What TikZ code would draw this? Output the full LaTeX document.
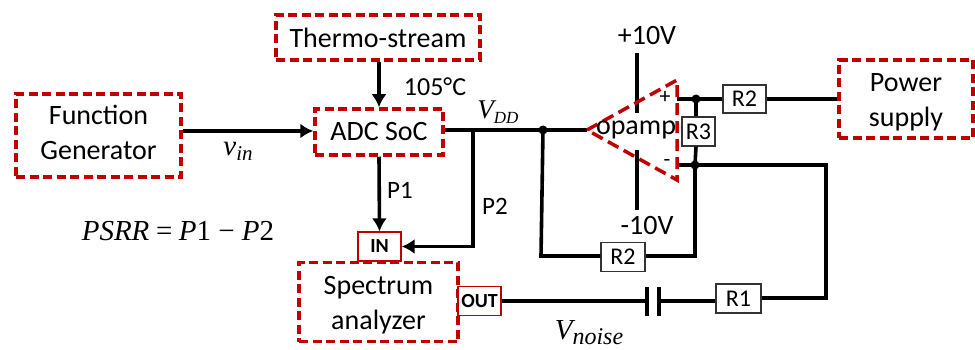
\documentclass[tikz,border=0pt]{standalone}
\usepackage{fontspec}
\setmainfont{Carlito}
\newfontfamily\mathf{Liberation Serif}
\usetikzlibrary{arrows.meta,calc}
\definecolor{dred}{HTML}{C00000}
\newcommand{\mi}[1]{{\mathf\itshape #1}}
\newcommand{\subs}[2]{\raisebox{-5pt}{\fontsize{#1}{#1}\selectfont\mathf\itshape #2}}
\begin{document}
\begin{tikzpicture}[x=1pt,y=-1pt,
  txt/.style={font=\fontsize{28}{34}\selectfont,inner sep=0pt,align=center},
  redbox/.style={draw=dred,line width=3.5pt,dash pattern=on 9pt off 4.5pt,inner sep=0pt,align=center,font=\fontsize{28}{34}\selectfont,rectangle},
  res/.style={draw=black!80,line width=1.2pt,fill=white,inner sep=0pt,font=\fontsize{24}{28}\selectfont,rectangle},
  port/.style={draw=red!75!black,line width=1.2pt,fill=white,inner sep=0pt,font=\fontsize{20}{24}\selectfont\bfseries,rectangle},
  wire/.style={line width=3.6pt,draw=black},
  arr/.style={wire,-{Latex[length=13pt,width=15pt]}},
  junction/.style={circle,fill=black,inner sep=0pt,minimum size=9pt},
  mth/.style={inner sep=0pt,font=\fontsize{29}{34}\selectfont}]
\useasboundingbox (0,0) rectangle (975,350);

% wires first
\coordinate (tip) at (587,130);
\coordinate (tr) at (677,80);
\coordinate (br) at (677,180);
\coordinate (jvdd) at (543,130);
\coordinate (jp2) at (473,130);
\coordinate (jplus) at (696,99);
\coordinate (jminus) at (695,165);
\coordinate (pin) at (677,99);
\coordinate (min) at (677,165);
\coordinate (cornerA) at (826,165);
\coordinate (cornerB) at (826,298);
\coordinate (cornerC) at (541,256);
\coordinate (cornerD) at (695,256);
\coordinate (vpT) at (637,53);
\coordinate (vpB) at (637,113);
\coordinate (vmT) at (637,150);
\coordinate (vmB) at (637,210);
\coordinate (c1) at (647,301);
\coordinate (c2) at (659,301);

\node[redbox,minimum width=165pt,minimum height=83pt,label={[txt,yshift=3pt]center:Function\\[1pt]Generator}] (fg) at (98.5,135.5) {};
\node[redbox,minimum width=204pt,minimum height=45pt] (ts) at (378,37.5) {Thermo-stream};
\node[redbox,minimum width=128pt,minimum height=46pt] (adc) at (379,132) {ADC SoC};
\node[redbox,minimum width=159pt,minimum height=79pt,label={[txt,yshift=-3pt]center:Spectrum\\[1pt]analyzer}] (sa) at (378.5,302) {};
\node[redbox,minimum width=134pt,minimum height=78pt,label={[txt,yshift=-3pt]center:Power\\[1pt]supply}] (ps) at (906,99) {};

\node[port,minimum width=43pt,minimum height=29pt] (in) at (379.5,246.5) {IN};
\node[port,minimum width=43pt,minimum height=29pt] (out) at (479.5,301) {OUT};
\node[res,minimum width=43pt,minimum height=28pt] (r2a) at (744.5,99) {R2};
\node[res,minimum width=33pt,minimum height=29pt] (r3) at (698.5,131.5) {R3};
\node[res,minimum width=44pt,minimum height=29pt] (r2b) at (623,257) {R2};
\node[res,minimum width=45pt,minimum height=29pt] (r1) at (738.5,298.5) {R1};

\draw[arr] (fg.east |- 0,131) -- (adc.west |- 0,131);
\draw[arr] (ts.south -| 379,0) -- (adc.north);
\draw[arr] (adc.south) -- (in.north);
\draw[arr] (jp2) -- (jp2 |- in.east) -- (in.east);
\draw[wire] (adc.east |- tip) -- (tip);
\draw[wire] (jvdd) -- (cornerC) -- (r2b.west |- cornerC);
\draw[wire] (r2b.east |- cornerD) -- (cornerD) -- (jminus);
\draw[wire] (pin) -- (r2a.west);
\draw[wire] (r2a.east) -- (ps.west |- r2a.east);
\draw[wire] (jplus) -- (r3.north -| jplus);
\draw[wire] (r3.south -| jplus) -- (jminus);
\draw[wire] (min) -- (cornerA) -- (cornerB) -- (r1.east |- cornerB);
\draw[wire] (r1.west |- c2) -- (c2);
\draw[wire] (out.east) -- (c1);
\draw[line width=3.5pt] ($(c1)+(0,-14)$) -- ($(c1)+(0,15)$);
\draw[line width=3.5pt] ($(c2)+(0,-14)$) -- ($(c2)+(0,15)$);
\draw[wire] (vpT) -- (vpB);
\draw[wire] (vmT) -- (vmB);

\draw[draw=dred,line width=3.5pt,dash pattern=on 12pt off 6pt] (tip) -- (tr) -- (br) -- cycle;

\node[junction] (dotA) at (jvdd) {};
\node[junction] (dotB) at (jplus) {};
\node[junction] (dotC) at (jminus) {};

\node[txt,font=\fontsize{26}{30}\selectfont] (t105) at (435,87) {105°C};
\node[mth,font=\fontsize{27}{32}\selectfont] (tvdd) at (498,112) {\mi{V}\subs{17}{DD}};
\node[mth] (tvin) at (238,151) {\mi{v}\subs{21}{in}};
\node[mth] (tpsrr) at (178,231) {\mi{PSRR} {\mathf =} \mi{P}{\mathf 1 − }\mi{P}{\mathf 2}};
\node[txt,font=\fontsize{25}{30}\selectfont] (tp1) at (400,190) {P1};
\node[txt,font=\fontsize{25}{30}\selectfont] (tp2) at (495,206) {P2};
\node[txt] (tvp) at (647,36) {+10V};
\node[txt] (tvm) at (647,226) {-10V};
\node[txt] (top) at (636,130) {opamp};
\node[txt,font=\fontsize{22}{26}\selectfont] (tplus) at (665,97) {+};
\node[txt,font=\fontsize{22}{26}\selectfont] (tminus) at (667,163) {-};
\node[mth] (tvn) at (589,333) {\mi{V}\subs{24}{noise}};
\end{tikzpicture}
\end{document}
